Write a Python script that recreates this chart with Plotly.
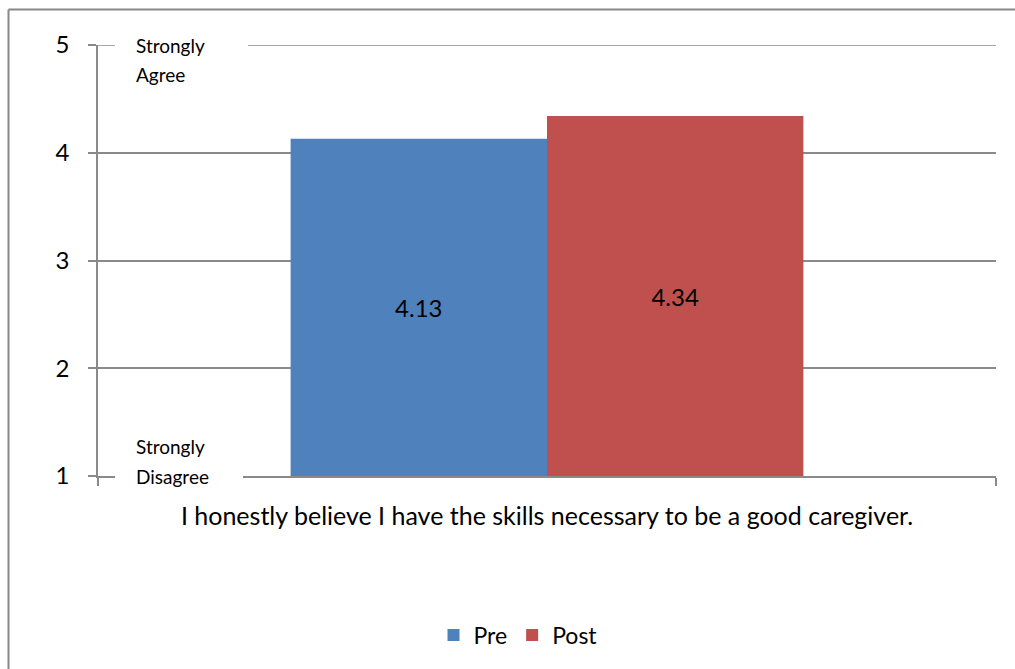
import plotly.graph_objects as go

# Survey item and mean scores (1 = Strongly Disagree, 5 = Strongly Agree)
categories = ["I honestly believe I have the skills necessary to be a good caregiver."]
series_names = ["Pre", "Post"]
pre_values = [4.13]
post_values = [4.34]
y_tick_values = [1, 2, 3, 4, 5]
scale_floor = 1
scale_top = 5

series_colors = {"Pre": "#4F81BD", "Post": "#C0504D"}
line_gray = "#8a8a8a"

W, H = 1015, 669
L, R, T, B = 98, 19, 45, 193
pw, ph = W - L - R, H - T - B


def fx(px):
    """Pixel column -> paper x."""
    return (px - L) / pw


def fy(py):
    """Pixel row -> paper y."""
    return (H - B - py) / ph


fig = go.Figure()
for name, vals in zip(series_names, [pre_values, post_values]):
    fig.add_bar(
        name=name,
        x=categories,
        y=[v - scale_floor for v in vals],
        base=scale_floor,
        marker=dict(color=series_colors[name], line=dict(width=0)),
        text=[f"{v:.2f}" for v in vals],
        textposition="inside",
        insidetextanchor="middle",
        textangle=0,
        textfont=dict(size=24, color="black", family="Lato"),
        hovertemplate=name + ": %{text}<extra></extra>",
    )

shapes = [
    # top gridline at the upper end of the scale
    dict(type="line", xref="paper", yref="y", layer="below",
         x0=0, x1=1, y0=scale_top, y1=scale_top,
         line=dict(color=line_gray, width=1.5)),
    # white boxes behind the scale-end captions
    dict(type="rect", xref="paper", yref="paper", layer="above",
         x0=fx(115), x1=fx(248), y0=fy(52), y1=fy(38),
         fillcolor="white", line=dict(width=0)),
    dict(type="rect", xref="paper", yref="paper", layer="above",
         x0=fx(115), x1=fx(243), y0=fy(483), y1=fy(469),
         fillcolor="white", line=dict(width=0)),
    # chart frame (left and top edges)
    dict(type="line", xref="paper", yref="paper", layer="above",
         x0=fx(8.5), x1=fx(8.5), y0=fy(9.5), y1=fy(700),
         line=dict(color="#878787", width=2)),
    dict(type="line", xref="paper", yref="paper", layer="above",
         x0=fx(8.5), x1=fx(1030), y0=fy(9.5), y1=fy(9.5),
         line=dict(color="#878787", width=2)),
]

captions = [
    ("Strongly", 45), ("Agree", 74),
    ("Strongly", 446), ("Disagree", 476),
]
annotations = [
    dict(text=t, xref="paper", yref="paper", x=fx(134), y=fy(py),
         xanchor="left", yanchor="middle", showarrow=False,
         font=dict(size=19, color="black", family="Lato"))
    for t, py in captions
]

fig.update_layout(
    width=W, height=H,
    margin=dict(l=L, r=R, t=T, b=B),
    paper_bgcolor="white", plot_bgcolor="white",
    font=dict(family="Lato", color="black"),
    barmode="group", bargap=0.429, bargroupgap=0,
    showlegend=True,
    legend=dict(orientation="h", x=fx(518), y=fy(635),
                xanchor="center", yanchor="middle",
                font=dict(size=23, color="black", family="Lato"),
                bgcolor="rgba(0,0,0,0)"),
    shapes=shapes,
    annotations=annotations,
    xaxis=dict(
        type="category", showgrid=False,
        showline=True, linecolor=line_gray, linewidth=1.5,
        ticks="outside", tickson="boundaries", ticklen=8,
        tickcolor=line_gray, tickwidth=1.5,
        tickfont=dict(size=25, color="black", family="Lato"),
        ticklabelstandoff=17,
    ),
    yaxis=dict(
        range=[scale_floor, scale_top], tickvals=y_tick_values,
        showgrid=True, gridcolor=line_gray, gridwidth=1.5,
        showline=True, linecolor=line_gray, linewidth=1.5,
        ticks="outside", ticklen=8, tickcolor=line_gray, tickwidth=1.5,
        tickfont=dict(size=24, color="black", family="Lato"),
        ticklabelstandoff=14, zeroline=False,
    ),
)

fig.write_html("out.html")
